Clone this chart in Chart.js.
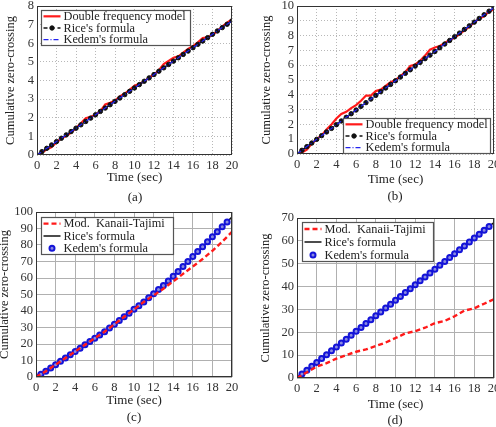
<!DOCTYPE html>
<html>
<head>
<meta charset="utf-8">
<script src="https://cdn.jsdelivr.net/npm/chart.js@4.4.1/dist/chart.umd.min.js"></script>
<style>
  html, body { margin: 0; padding: 0; background: #fff; overflow: hidden; }
  #wrap { position: relative; width: 496px; height: 427px; overflow: hidden; }
  canvas { position: absolute; }
  .lab { position: absolute; font: 13px "Liberation Serif", serif; color: #222; transform: translateX(-50%); line-height: 1; }
</style>
</head>
<body>
<div id="wrap">
  <canvas id="pa"></canvas>
  <canvas id="pb"></canvas>
  <canvas id="pc"></canvas>
  <canvas id="pd"></canvas>
  <div class="lab" style="left:135px;top:190px">(a)</div>
  <div class="lab" style="left:395px;top:189px">(b)</div>
  <div class="lab" style="left:134px;top:410px">(c)</div>
  <div class="lab" style="left:395px;top:413px">(d)</div>
</div>
<script>
// time grid (s), shared by most series
const tHalf = [0,0.5,1,1.5,2,2.5,3,3.5,4,4.5,5,5.5,6,6.5,7,7.5,8,8.5,9,9.5,10,10.5,11,11.5,12,12.5,13,13.5,14,14.5,15,15.5,16,16.5,17,17.5,18,18.5,19,19.5,20];
const tMarks = tHalf.slice(0, 40); // circles stop at 19.5

// (a)
const riceA = [0,0.18,0.36,0.54,0.72,0.9,1.08,1.26,1.44,1.62,1.8,1.98,2.16,2.34,2.52,2.7,2.88,3.06,3.24,3.42,3.6,3.78,3.96,4.14,4.32,4.5,4.68,4.86,5.04,5.22,5.4,5.58,5.76,5.94,6.12,6.3,6.48,6.66,6.84,7.02,7.2];
const kedemA = riceA;
const modelA = [0,0.12,0.3,0.42,0.68,0.9,1.02,1.2,1.45,1.7,1.98,2.05,2.15,2.35,2.72,2.8,2.92,3.15,3.3,3.5,3.72,3.82,3.95,4.15,4.32,4.55,4.88,5.05,5.22,5.3,5.5,5.7,5.85,6.05,6.28,6.32,6.45,6.65,6.9,7.1,7.28];

// (b)
const riceB = [0,0.25,0.5,0.74,0.99,1.24,1.49,1.73,1.98,2.23,2.48,2.72,2.97,3.22,3.47,3.71,3.96,4.21,4.46,4.7,4.95,5.2,5.45,5.69,5.94,6.19,6.44,6.68,6.93,7.18,7.43,7.67,7.92,8.17,8.42,8.66,8.91,9.16,9.41,9.65,9.9];
const kedemB = riceB;
const modelB = [0,0.1,0.3,0.7,1.0,1.25,1.65,2.0,2.4,2.7,2.85,3.1,3.3,3.6,3.95,3.95,4.25,4.35,4.6,4.85,5.0,5.25,5.55,5.95,6.05,6.3,6.65,7.05,7.2,7.3,7.5,7.7,7.85,8.1,8.35,8.6,8.9,9.15,9.3,9.65,9.75];

// (c)
const riceC = [0,1.7,3.5,5.5,7.5,9.5,11.5,13.5,15.5,17.5,19.5,21.5,23.5,25.5,27.5,29.7,32,34.2,36.5,38.7,41,43.2,45.5,48,50.5,53,55.5,58.2,61,64,67,70,73,76,79,82,85,88,91,94,97];
const kedemC = riceC.slice(0, 40);
const kanaiC = [0,1.7,3.5,5.5,7.5,9.5,11.5,13.5,15.5,17.5,19.5,21.5,23.5,25.5,27.5,29.7,32,34.2,36.5,38.7,41,43.2,45.5,47.5,49.5,51.5,53.5,55.8,58,60.2,62.5,64.7,67,69.2,71.5,74,76.5,79.2,82,85,88];

// (d)
const riceD = [0,1.7,3.4,5.1,6.8,8.5,10.2,11.9,13.6,15.3,17,18.7,20.4,22.1,23.8,25.5,27.2,28.9,30.6,32.3,34,35.7,37.4,39.1,40.8,42.5,44.2,45.9,47.6,49.3,51,52.7,54.4,56.1,57.8,59.5,61.2,62.9,64.6,66.3,68];
const kedemD = riceD.slice(0, 40);
const tKanaiD = [0,1,2,3,4,5,6,7,8,9,10,11,12,13,14,15,16,17,18,19,20];
const kanaiD = [0,2.5,5,6.5,8.5,10,11.5,12.5,14,15.5,17.5,19.5,20.5,22,24,25,27,29.5,30.5,32.5,34.5];

const xTicks = [0,2,4,6,8,10,12,14,16,18,20];

const SERIF = '"Liberation Serif", "DejaVu Serif", serif';

function pts(xs, ys) {
  return ys.map((y, i) => ({ x: xs[i], y: y }));
}

// frame + legend drawn inside the plot area, matlab style
const boxLegend = {
  id: 'boxLegend',
  afterDraw(chart, args, o) {
    const ctx = chart.ctx;
    const a = chart.chartArea;
    ctx.save();
    ctx.strokeStyle = '#333';
    ctx.lineWidth = 1;
    ctx.setLineDash([]);
    ctx.strokeRect(Math.round(a.left) + 0.5, Math.round(a.top) + 0.5, Math.round(a.width) - 1, Math.round(a.height) - 1);

    const x0 = Math.round(a.left + o.dx) + 0.5;
    const y0 = Math.round(a.top + o.dy) + 0.5;
    ctx.fillStyle = '#fff';
    ctx.fillRect(x0, y0, o.w, o.h);
    ctx.strokeStyle = '#555';
    ctx.lineWidth = 1.2;
    ctx.strokeRect(x0, y0, o.w, o.h);

    const ds = chart.data.datasets;
    const rowH = o.h / ds.length;
    ctx.font = '12.3px ' + SERIF;
    ctx.textBaseline = 'middle';
    ds.forEach((d, i) => {
      const y = y0 + rowH * (i + 0.5);
      if (d.showLine !== false) {
        ctx.strokeStyle = d.borderColor;
        ctx.lineWidth = d.borderWidth;
        ctx.setLineDash(d.borderDash || []);
        ctx.beginPath();
        ctx.moveTo(x0 + 2, y);
        ctx.lineTo(x0 + 19, y);
        ctx.stroke();
      }
      if (d.pointRadius > 0) {
        ctx.setLineDash([]);
        ctx.beginPath();
        ctx.arc(x0 + 10.5, y, d.pointRadius, 0, Math.PI * 2);
        ctx.fillStyle = d.pointBackgroundColor;
        ctx.fill();
        ctx.lineWidth = d.pointBorderWidth || 1;
        ctx.strokeStyle = d.pointBorderColor;
        ctx.stroke();
      }
      ctx.fillStyle = '#222';
      ctx.fillText(d.label, x0 + 22, y + 0.5);
    });
    ctx.restore();
  }
};

function makeChart(id, pos, datasets, yMax, yStep, gridStyle, legend) {
  const cv = document.getElementById(id);
  cv.width = pos.w;
  cv.height = pos.h;
  cv.style.left = pos.x + 'px';
  cv.style.top = pos.y + 'px';

  const grid = gridStyle === 'dots'
    ? { color: '#b8b8b8', lineWidth: 1, drawTicks: false }
    : { color: '#b0b0b0', lineWidth: 1, drawTicks: false };
  const dash = gridStyle === 'dots' ? [1, 2] : [];

  return new Chart(cv, {
    type: 'line',
    data: { datasets: datasets },
    options: {
      responsive: false,
      animation: false,
      devicePixelRatio: 1,
      layout: { padding: { top: pos.pt, right: pos.pr, left: 0, bottom: 0 } },
      plugins: {
        legend: { display: false },
        tooltip: { enabled: false },
        boxLegend: legend
      },
      scales: {
        x: {
          type: 'linear',
          min: 0, max: 20,
          afterBuildTicks: s => { s.ticks = xTicks.map(v => ({ value: v })); },
          afterFit: s => { s.height = pos.b; s.paddingLeft = 0; s.paddingRight = 0; },
          grid: grid,
          border: { display: false, dash: dash },
          ticks: { color: '#333', font: { family: SERIF, size: 12.5 }, padding: 3, maxRotation: 0, autoSkip: false },
          title: { display: true, text: 'Time (sec)', color: '#222', font: { family: SERIF, size: 13 }, padding: 4 }
        },
        y: {
          min: 0, max: yMax,
          ticks: { stepSize: yStep, color: '#333', font: { family: SERIF, size: 12.5 }, padding: 3, autoSkip: false },
          afterFit: s => { s.width = pos.l; s.paddingTop = 0; s.paddingBottom = 0; },
          grid: grid,
          border: { display: false, dash: dash },
          title: { display: true, text: 'Cumulative zero-crossing', color: '#222', font: { family: SERIF, size: 12.5 }, padding: 3 }
        }
      }
    },
    plugins: [boxLegend]
  });
}

function lineSets(model, modelT, rice, kedem) {
  return [
    { label: 'Double frequency model', data: pts(modelT, model), borderColor: '#ff1a1a', borderWidth: 2.2,
      pointRadius: 0, tension: 0, order: 3 },
    { label: "Rice's formula", data: pts(tHalf, rice), borderColor: '#111', borderWidth: 1.5, borderDash: [4, 3],
      pointRadius: 2.2, pointBackgroundColor: '#111', pointBorderColor: '#111', pointBorderWidth: 1, tension: 0, order: 2 },
    { label: "Kedem's formula", data: pts(tHalf, kedem), borderColor: '#2222ee', borderWidth: 1.2, borderDash: [5, 2, 1, 2],
      pointRadius: 0, tension: 0, order: 1 }
  ];
}

function kanaiSets(kanai, kanaiT, rice, kedem) {
  return [
    { label: 'Mod.  Kanaii-Tajimi', data: pts(kanaiT, kanai), borderColor: '#ff1a1a', borderWidth: 2.4, borderDash: [5, 3],
      pointRadius: 0, tension: 0, order: 1 },
    { label: "Rice's formula", data: pts(tHalf, rice), borderColor: '#111', borderWidth: 1.5,
      pointRadius: 0, tension: 0, order: 3 },
    { label: "Kedem's formula", data: pts(tMarks, kedem), showLine: false, borderColor: '#2a2ae0',
      pointRadius: 2.5, pointBackgroundColor: '#8a8ae0', pointBorderColor: '#1414d8', pointBorderWidth: 2, order: 2 }
  ];
}

makeChart('pa', { x: 0, y: 0, w: 245, h: 189, pt: 6, pr: 13, l: 37, b: 34 },
  lineSets(modelA, tHalf, riceA, kedemA), 8, 1, 'dots', { dx: 4, dy: 4, w: 149, h: 35 });

makeChart('pb', { x: 256, y: 0, w: 246, h: 191, pt: 6, pr: 8, l: 41, b: 37 },
  lineSets(modelB, tHalf, riceB, kedemB), 10, 1, 'dots', { dx: 46, dy: 112, w: 147, h: 35 });

makeChart('pc', { x: -6, y: 200, w: 251, h: 212, pt: 12, pr: 13, l: 42, b: 35 },
  kanaiSets(kanaiC, tHalf, riceC, kedemC), 100, 10, 'solid', { dx: 5, dy: 5, w: 132, h: 37 });

makeChart('pd', { x: 255, y: 205, w: 247, h: 211, pt: 13, pr: 8, l: 42, b: 38 },
  kanaiSets(kanaiD, tKanaiD, riceD, kedemD), 70, 10, 'solid', { dx: 5, dy: 4, w: 131, h: 39 });
</script>
</body>
</html>
